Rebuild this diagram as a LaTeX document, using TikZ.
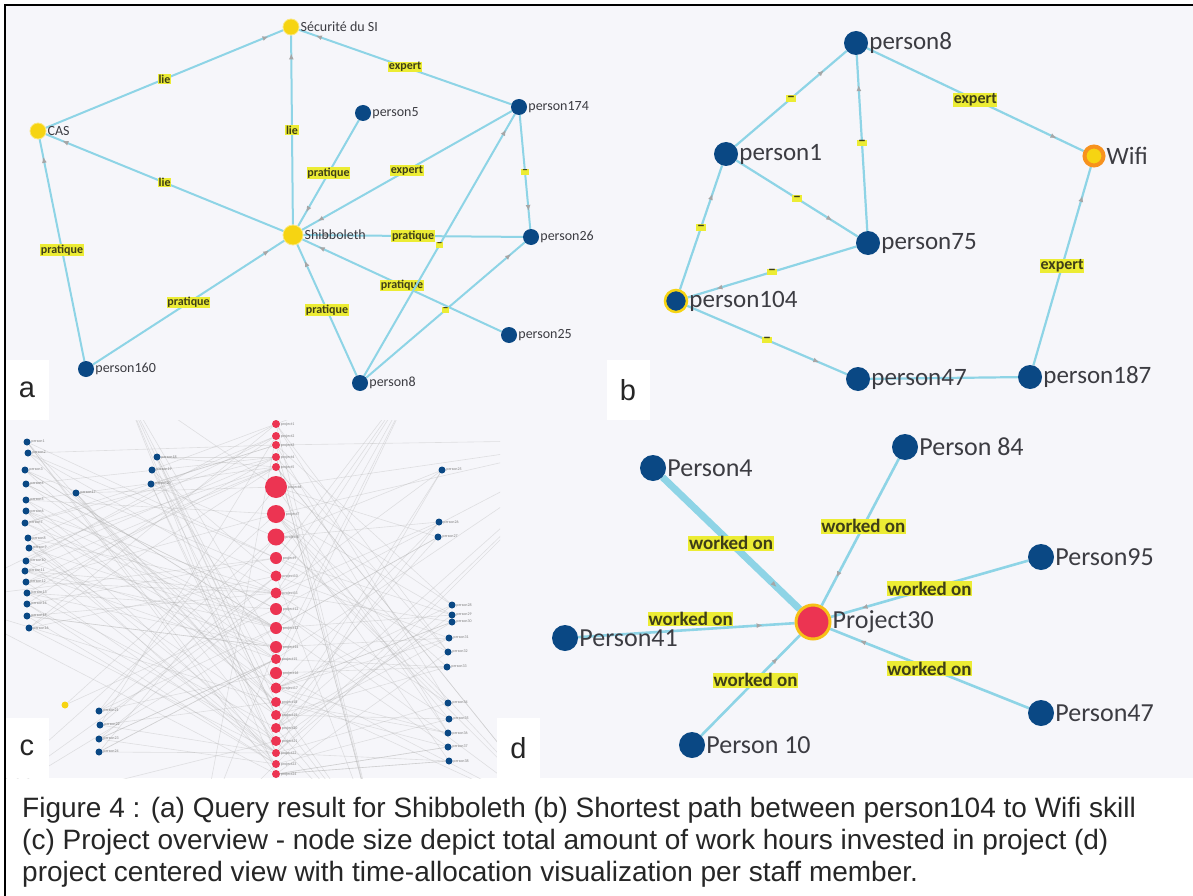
\documentclass[tikz,border=0pt]{standalone}
\usepackage{fontspec}
\setmainfont{Liberation Sans}
\newfontfamily\gfont{Carlito}
\usetikzlibrary{arrows.meta,decorations.markings,positioning}

\definecolor{navy}{RGB}{10,72,132}
\definecolor{gold}{RGB}{246,212,18}
\definecolor{rose}{RGB}{236,52,82}
\definecolor{ember}{RGB}{247,146,30}
\definecolor{sky}{RGB}{142,212,230}
\definecolor{hilite}{RGB}{236,236,52}
\definecolor{olive}{RGB}{62,62,24}
\definecolor{ink}{RGB}{60,60,66}
\definecolor{paper}{RGB}{246,246,250}

\pgfdeclarelayer{bg}
\pgfdeclarelayer{edges}
\pgfsetlayers{bg,edges,main}

\begin{document}
\begin{tikzpicture}[x=1pt, y=-1pt,
	dot/.style   = {circle, inner sep=0pt, minimum size=#1},
	pa/.style    = {dot=16pt, fill=navy, label distance=4pt},
	ya/.style    = {dot=16pt, fill=gold, draw=gold!55!white, line width=.8pt, label distance=4pt},
	pb/.style    = {dot=24pt, fill=navy, label distance=6pt},
	pd/.style    = {dot=26pt, fill=navy, label distance=7pt},
	cb/.style    = {dot=7pt, fill=navy, label distance=1pt},
	cr/.style    = {dot=#1, fill=rose, label distance=1pt},
	na/.style    = {font=\gfont\fontsize{14}{14}\selectfont, text=ink, inner sep=1pt},
	nb/.style    = {font=\gfont\fontsize{25}{25}\selectfont, text=ink, inner sep=1pt},
	nd/.style    = {font=\gfont\fontsize{26}{26}\selectfont, text=ink, inner sep=1pt},
	ct/.style    = {font=\gfont\fontsize{4}{4}\selectfont, text=gray, inner sep=.5pt},
	link/.style  = {draw=sky, line width=#1},
	tip/.style   = {postaction={decorate, decoration={markings,
			mark=at position #1 with {\arrow{Latex[length=6pt, width=5pt, color=gray!70]}}}}},
	ela/.style   = {fill=hilite, text=olive, inner sep=.6pt,
		font=\gfont\bfseries\fontsize{12}{12}\selectfont},
	elb/.style   = {ela, font=\gfont\bfseries\fontsize{16}{16}\selectfont},
	eld/.style   = {ela, font=\gfont\bfseries\fontsize{19}{19}\selectfont},
	cline/.style = {draw=gray!60, line width=.6pt, opacity=.35},
	panel/.style = {fill=white, text=black!85, minimum width=43pt, minimum height=60pt,
		inner sep=0pt, font=\fontsize{29}{29}\selectfont},
	captxt/.style = {anchor=base west, inner sep=0pt, text=black!85,
		font=\fontsize{28}{28}\selectfont},
	]
	
	\useasboundingbox (0,0) rectangle (1193,896);
	
	%% -- fond et cadre --------------------------------------------------------
	\begin{pgfonlayer}{bg}
		\fill[white] (0,0) rectangle (1193,896);
		\fill[paper] (5,5) rectangle (1193,778);
	\end{pgfonlayer}
	\draw[line width=2.5pt] (5,896) -- (5,5) -- (1193,5);
	
	%% -- (a) Shibboleth --------------------------------------------------------
	\node[ya, label={[na]right:Sécurité du SI}] (sec)  at (291,27)  {};
	\node[ya, label={[na]right:CAS}]            (cas)  at (38,131)  {};
	\node[ya, dot=20pt, label={[na]right:Shibboleth}] (shib) at (293,235) {};
	\node[pa, label={[na]right:person5}]   (a5)   at (363,113) {};
	\node[pa, label={[na]right:person174}] (a174) at (519,107) {};
	\node[pa, label={[na]right:person26}]  (a26)  at (531,237) {};
	\node[pa, label={[na]right:person25}]  (a25)  at (509,335) {};
	\node[pa, label={[na]right:person160}] (a160) at (86,369)  {};
	\node[pa, label={[na]right:person8}]   (a8)   at (360,383) {};
	
	\begin{pgfonlayer}{edges}
		\draw[link=2pt, tip=-16pt] (cas)  -- node[ela]{lie} (sec);
		\draw[link=2pt, tip=-18pt] (shib) -- node[ela]{lie} (sec);
		\draw[link=2pt, tip=-18pt] (a174) -- node[ela]{expert} (sec);
		\draw[link=2pt, tip=-18pt] (shib) -- node[ela]{lie} (cas);
		\draw[link=2pt, tip=-18pt] (a160) -- node[ela]{pratique} (cas);
		\draw[link=2pt, tip=-16pt] (a5)   -- node[ela]{pratique} (shib);
		\draw[link=2pt, tip=-18pt] (a174) -- node[ela]{expert} (shib);
		\draw[link=2pt, tip=-18pt] (a26)  -- node[ela]{pratique} (shib);
		\draw[link=2pt, tip=-18pt] (a174) -- node[ela]{–} (a26);
		\draw[link=2pt, tip=-18pt] (a25)  -- node[ela]{pratique} (shib);
		\draw[link=2pt, tip=-18pt] (a160) -- node[ela]{pratique} (shib);
		\draw[link=2pt, tip=-18pt] (a8)   -- node[ela]{pratique} (shib);
		\draw[link=2pt, tip=-18pt] (a8)   -- node[ela]{–} (a174);
		\draw[link=2pt, tip=-18pt] (a8)   -- node[ela]{–} (a26);
	\end{pgfonlayer}
	
	%% -- (b) plus court chemin -------------------------------------------------
	\node[pb, label={[nb]right:person8}]   (b8)   at (856,43)  {};
	\node[pb, label={[nb]right:person1}]   (b1)   at (726,154) {};
	\node[pb, label={[nb]right:person75}]  (b75)  at (868,243) {};
	\node[pb, dot=22pt, draw=gold, line width=2.5pt,
	label={[nb]right:person104}] (b104) at (676,301) {};
	\node[pb, label={[nb]right:person47}]  (b47)  at (858,379) {};
	\node[pb, label={[nb]right:person187}] (b187) at (1030,377) {};
	\node[dot=19pt, fill=gold, draw=ember, line width=4pt, label distance=4pt,
	label={[nb]right:Wifi}] (wifi) at (1094,156) {};
	
	\begin{pgfonlayer}{edges}
		\draw[link=2.2pt, tip=-30pt] (b1)   -- node[elb]{–} (b8);
		\draw[link=2.2pt, tip=-30pt] (b75)  -- node[elb]{–} (b8);
		\draw[link=2.2pt, tip=-30pt] (b8)   -- node[elb]{expert} (wifi);
		\draw[link=2.2pt, tip=-30pt] (b1)   -- node[elb]{–} (b75);
		\draw[link=2.2pt, tip=-30pt] (b104) -- node[elb]{–} (b1);
		\draw[link=2.2pt, tip=-30pt] (b75)  -- node[elb]{–} (b104);
		\draw[link=2.2pt, tip=-30pt] (b104) -- node[elb]{–} (b47);
		\draw[link=2.2pt] (b47) -- (b187);
		\draw[link=2.2pt, tip=-30pt] (b187) -- node[elb]{expert} (wifi);
	\end{pgfonlayer}
	
	%% -- (c) vue d'ensemble des projets ----------------------------------------
	\foreach \y/\s [count=\i] in {424/8, 436/8, 445/8, 457/8, 467/8, 487/22, 514/18,
		537/17, 558/12, 576/11, 593/11, 609/12, 628/12, 647/12, 659/10, 673/12, 688/11,
		702/10, 715/10, 728/10, 741/10, 753/8, 764/8, 774/8}
	\node[cr=\s pt, label={[ct]right:project\i}] (R\i) at (276,\y) {};
	
	\foreach \x/\y [count=\i] in {27/442, 28/453, 25/470, 26/484, 26/500, 26/511,
		25/523, 28/538, 29/548, 26/561, 25/571, 26/582, 27/593, 27/604, 27/616, 29/628,
		76/493, 157/457, 152/470, 151/484, 99/711, 100/725, 99/739, 99/752, 442/470,
		439/522, 438/537, 452/605, 452/615, 452/622, 449/638, 448/652, 447/667,
		448/703, 449/719, 448/733, 448/747, 449/761}
	\node[cb, label={[ct]right:person\i}] (B\i) at (\x,\y) {};
	\node[dot=7pt, fill=gold] (cy) at (65,705) {};
	
	% bouts libres hors cadre
	\foreach \x/\y [count=\i] in {120/380, 420/370, -60/600, -40/820, 560/820,
		600/440, 200/840, 380/850}
	\coordinate (O\i) at (\x,\y);
	
	\begin{pgfonlayer}{edges}
		\begin{scope}
			\clip (6,420) rectangle (500,778);
			\pgfmathsetseed{4242}
			\foreach \i in {1,...,38}{
				\foreach \k in {1,...,4}{
					\pgfmathtruncatemacro{\r}{random(1,24)}
					\draw[cline] (B\i) -- (R\r);
			}}
			\foreach \i in {1,...,24}{
				\foreach \k in {1,2}{
					\pgfmathtruncatemacro{\o}{random(1,8)}
					\draw[cline] (R\i) -- (O\o);
			}}
			\draw[cline] (cy) -- (R7);
			\draw[cline] (cy) -- (R12);
		\end{scope}
	\end{pgfonlayer}
	
	%% -- (d) vue centree projet ------------------------------------------------
	\node[dot=34pt, fill=rose, draw=gold!70!ember, line width=3pt, label distance=3pt,
	label={[nd]right:Project30}] (p30) at (813,622) {};
	\node[pd, label={[nd]right:Person4}]   (d4)  at (653,468) {};
	\node[pd, label={[nd]right:Person 84}] (d84) at (905,447) {};
	\node[pd, label={[nd]right:Person95}]  (d95) at (1041,557) {};
	\node[pd, label={[nd]right:Person41}]  (d41) at (565,638) {};
	\node[pd, label={[nd]right:Person47}]  (d47) at (1041,713) {};
	\node[pd, label={[nd]right:Person 10}] (d10) at (692,745) {};
	
	\begin{pgfonlayer}{edges}
		\draw[link=7pt, tip=-32pt] (d4)  -- node[eld]{worked on} (p30);
		\draw[link=2.6pt, tip=-32pt] (d84) -- node[eld, pos=.46]{worked on} (p30);
		\draw[link=2.6pt, tip=-32pt] (d95) -- node[eld]{worked on} (p30);
		\draw[link=2.6pt, tip=-32pt] (d41) -- node[eld, pos=.52, yshift=11pt]{worked on} (p30);
		\draw[link=2.6pt, tip=-32pt] (d47) -- node[eld]{worked on} (p30);
		\draw[link=2.6pt, tip=-32pt] (d10) -- node[eld, pos=.55]{worked on} (p30);
	\end{pgfonlayer}
	
	%% -- lettres des panneaux --------------------------------------------------
	\node[panel] (la) at (27,390)    {a};
	\node[panel] (lb) at (628,390)   {b};
	\node[panel] (lc) at (27,748)    {c};
	\node[panel] (ld) at (518.5,748) {d};
	
	%% -- legende ---------------------------------------------------------------
	\node[captxt] (cap1) at (22,817) {Figure 4 : (a) Query result for Shibboleth (b) Shortest path between person104 to Wifi skill};
	\node[captxt] (cap2) at (22,849) {(c) Project overview - node size depict total amount of work hours invested in project (d)};
	\node[captxt] (cap3) at (22,881) {project centered view with time-allocation visualization per staff member.};
	
\end{tikzpicture}
\end{document}
